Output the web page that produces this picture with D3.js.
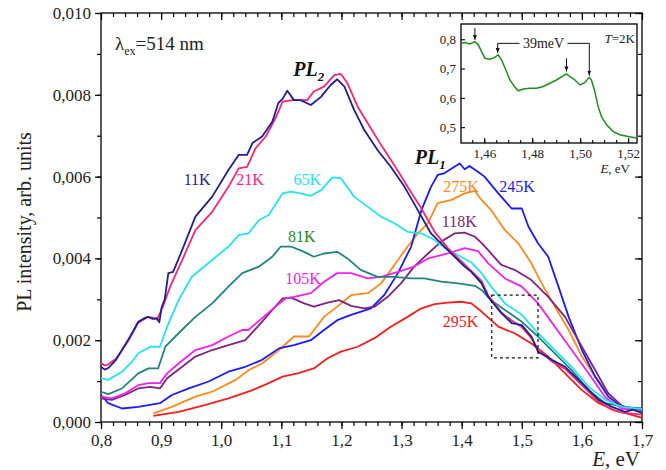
<!DOCTYPE html>
<html>
<head>
<meta charset="utf-8">
<title>PL spectra</title>
<script src="https://cdn.jsdelivr.net/npm/d3@7"></script>
<style>
  body { margin: 0; background: #fff; }
  svg, svg text { font-family: "Liberation Serif", "Times New Roman", serif; }
  svg { display: block; }
</style>
</head>
<body>
<svg id="chart" width="666" height="470"></svg>
<script>
// PL spectra, [E (eV), intensity]
const s11K = [[0.800,0.00135],[0.806,0.00128],[0.812,0.00132],[0.825,0.00152],[0.835,0.00176],[0.848,0.00208],[0.862,0.00245],[0.870,0.00252],[0.878,0.00257],[0.886,0.00252],[0.893,0.00254],[0.897,0.00244],[0.901,0.00281],[0.906,0.00300],[0.912,0.00364],[0.920,0.00367],[0.935,0.00420],[0.957,0.00502],[0.985,0.00551],[1.012,0.00616],[1.029,0.00653],[1.043,0.00653],[1.052,0.00682],[1.068,0.00698],[1.085,0.00734],[1.095,0.00780],[1.102,0.00790],[1.110,0.00810],[1.121,0.00787],[1.132,0.00787],[1.149,0.00775],[1.166,0.00795],[1.182,0.00824],[1.193,0.00838],[1.205,0.00820],[1.221,0.00763],[1.238,0.00714],[1.260,0.00665],[1.282,0.00624],[1.305,0.00575],[1.327,0.00518],[1.349,0.00461],[1.377,0.00420],[1.405,0.00380],[1.416,0.00367],[1.433,0.00339],[1.444,0.00306],[1.466,0.00266],[1.483,0.00242],[1.490,0.00240],[1.500,0.00237],[1.516,0.00209],[1.527,0.00172],[1.550,0.00152],[1.572,0.00135],[1.600,0.00095],[1.628,0.00054],[1.650,0.00037],[1.672,0.00025],[1.685,0.00030],[1.700,0.00022]];
const s21K = [[0.800,0.00144],[0.806,0.00138],[0.812,0.00141],[0.825,0.00155],[0.835,0.00176],[0.848,0.00205],[0.862,0.00243],[0.878,0.00257],[0.886,0.00255],[0.893,0.00250],[0.904,0.00286],[0.915,0.00331],[0.935,0.00396],[0.957,0.00469],[0.985,0.00514],[1.012,0.00575],[1.029,0.00620],[1.043,0.00624],[1.057,0.00669],[1.074,0.00698],[1.090,0.00742],[1.102,0.00783],[1.118,0.00787],[1.143,0.00787],[1.154,0.00808],[1.171,0.00820],[1.188,0.00848],[1.199,0.00851],[1.210,0.00828],[1.227,0.00771],[1.244,0.00730],[1.266,0.00677],[1.288,0.00628],[1.310,0.00575],[1.333,0.00522],[1.355,0.00465],[1.377,0.00425],[1.405,0.00385],[1.433,0.00345],[1.444,0.00310],[1.466,0.00268],[1.483,0.00248],[1.500,0.00232],[1.516,0.00205],[1.527,0.00178],[1.550,0.00148],[1.572,0.00130],[1.600,0.00090],[1.628,0.00050],[1.650,0.00030],[1.672,0.00022],[1.700,0.00018]];
const s65K = [[0.800,0.00107],[0.812,0.00103],[0.835,0.00123],[0.850,0.00145],[0.862,0.00168],[0.882,0.00184],[0.898,0.00184],[0.910,0.00233],[0.929,0.00298],[0.951,0.00355],[0.985,0.00396],[1.012,0.00429],[1.029,0.00457],[1.045,0.00461],[1.063,0.00494],[1.079,0.00506],[1.102,0.00559],[1.116,0.00563],[1.132,0.00559],[1.149,0.00553],[1.166,0.00567],[1.185,0.00598],[1.199,0.00596],[1.221,0.00551],[1.244,0.00526],[1.266,0.00502],[1.288,0.00486],[1.310,0.00465],[1.333,0.00461],[1.355,0.00445],[1.377,0.00420],[1.399,0.00404],[1.416,0.00390],[1.433,0.00364],[1.449,0.00331],[1.472,0.00290],[1.500,0.00262],[1.527,0.00217],[1.555,0.00176],[1.583,0.00135],[1.611,0.00086],[1.639,0.00054],[1.666,0.00037],[1.700,0.00032]];
const s81K = [[0.800,0.00074],[0.812,0.00068],[0.835,0.00082],[0.862,0.00119],[0.879,0.00131],[0.895,0.00131],[0.907,0.00184],[0.929,0.00217],[0.957,0.00257],[0.985,0.00290],[1.012,0.00331],[1.035,0.00364],[1.063,0.00380],[1.085,0.00404],[1.099,0.00429],[1.116,0.00429],[1.138,0.00416],[1.154,0.00404],[1.171,0.00412],[1.193,0.00416],[1.210,0.00400],[1.232,0.00372],[1.260,0.00355],[1.288,0.00355],[1.316,0.00351],[1.338,0.00351],[1.366,0.00343],[1.394,0.00339],[1.422,0.00333],[1.433,0.00323],[1.449,0.00298],[1.472,0.00274],[1.500,0.00245],[1.527,0.00209],[1.555,0.00168],[1.583,0.00127],[1.611,0.00078],[1.639,0.00046],[1.672,0.00037],[1.700,0.00029]];
const s105K = [[0.800,0.00062],[0.818,0.00058],[0.840,0.00070],[0.862,0.00090],[0.879,0.00095],[0.898,0.00095],[0.910,0.00119],[0.929,0.00143],[0.957,0.00176],[0.985,0.00188],[1.012,0.00209],[1.035,0.00225],[1.045,0.00225],[1.068,0.00254],[1.090,0.00282],[1.107,0.00302],[1.121,0.00306],[1.149,0.00315],[1.171,0.00343],[1.193,0.00364],[1.216,0.00364],[1.244,0.00351],[1.266,0.00355],[1.294,0.00367],[1.321,0.00380],[1.344,0.00400],[1.377,0.00412],[1.405,0.00425],[1.427,0.00418],[1.444,0.00388],[1.472,0.00351],[1.500,0.00331],[1.527,0.00290],[1.555,0.00233],[1.583,0.00176],[1.611,0.00119],[1.639,0.00060],[1.666,0.00033],[1.700,0.00028]];
const s118K = [[0.800,0.00058],[0.818,0.00054],[0.840,0.00066],[0.862,0.00082],[0.882,0.00086],[0.898,0.00082],[0.910,0.00107],[0.935,0.00135],[0.957,0.00160],[0.985,0.00176],[1.012,0.00188],[1.040,0.00200],[1.063,0.00237],[1.085,0.00274],[1.102,0.00302],[1.116,0.00304],[1.138,0.00290],[1.154,0.00282],[1.177,0.00292],[1.196,0.00298],[1.216,0.00284],[1.238,0.00278],[1.255,0.00282],[1.277,0.00306],[1.299,0.00339],[1.321,0.00380],[1.344,0.00412],[1.366,0.00441],[1.388,0.00461],[1.405,0.00463],[1.422,0.00453],[1.433,0.00438],[1.444,0.00420],[1.466,0.00384],[1.488,0.00372],[1.516,0.00347],[1.544,0.00306],[1.572,0.00257],[1.600,0.00184],[1.622,0.00127],[1.644,0.00070],[1.666,0.00040],[1.700,0.00023]];
const s245K = [[0.800,0.00066],[0.812,0.00046],[0.835,0.00033],[0.862,0.00037],[0.898,0.00046],[0.918,0.00066],[0.946,0.00082],[0.979,0.00099],[1.012,0.00123],[1.040,0.00135],[1.068,0.00152],[1.096,0.00180],[1.121,0.00188],[1.149,0.00200],[1.171,0.00225],[1.193,0.00249],[1.216,0.00262],[1.249,0.00278],[1.271,0.00310],[1.294,0.00364],[1.316,0.00429],[1.333,0.00518],[1.349,0.00575],[1.360,0.00604],[1.371,0.00608],[1.388,0.00624],[1.397,0.00632],[1.405,0.00618],[1.413,0.00626],[1.427,0.00612],[1.438,0.00600],[1.461,0.00559],[1.483,0.00522],[1.500,0.00522],[1.511,0.00478],[1.527,0.00437],[1.544,0.00404],[1.561,0.00331],[1.578,0.00257],[1.600,0.00176],[1.622,0.00111],[1.644,0.00062],[1.666,0.00037],[1.700,0.00033]];
const s275K = [[0.887,0.00021],[0.918,0.00037],[0.957,0.00062],[0.985,0.00074],[1.024,0.00103],[1.046,0.00127],[1.068,0.00143],[1.096,0.00176],[1.121,0.00209],[1.146,0.00209],[1.171,0.00257],[1.193,0.00282],[1.216,0.00310],[1.244,0.00315],[1.266,0.00339],[1.294,0.00396],[1.310,0.00429],[1.327,0.00461],[1.344,0.00486],[1.360,0.00535],[1.383,0.00543],[1.405,0.00559],[1.422,0.00565],[1.433,0.00543],[1.449,0.00518],[1.472,0.00469],[1.494,0.00437],[1.516,0.00388],[1.533,0.00339],[1.555,0.00282],[1.578,0.00225],[1.600,0.00160],[1.622,0.00111],[1.644,0.00070],[1.666,0.00040],[1.700,0.00025]];
const s295K = [[0.887,0.00015],[0.929,0.00025],[0.974,0.00042],[1.012,0.00058],[1.052,0.00078],[1.079,0.00095],[1.102,0.00111],[1.127,0.00119],[1.154,0.00131],[1.177,0.00156],[1.199,0.00172],[1.227,0.00184],[1.255,0.00205],[1.282,0.00233],[1.310,0.00257],[1.333,0.00278],[1.355,0.00288],[1.377,0.00292],[1.399,0.00294],[1.416,0.00290],[1.433,0.00270],[1.449,0.00249],[1.461,0.00233],[1.488,0.00217],[1.516,0.00192],[1.544,0.00160],[1.572,0.00119],[1.600,0.00078],[1.628,0.00046],[1.655,0.00028],[1.677,0.00020],[1.700,0.00010]];

// series: name, data, line colour, label colour, label anchor [E, I]
const seriesNames = ["295K", "275K", "245K", "118K", "105K", "81K", "65K", "21K", "11K"];
const seriesData = [s295K, s275K, s245K, s118K, s105K, s81K, s65K, s21K, s11K];
const lineColors = ["#f0201e", "#ff8a1c", "#1c1cf0", "#7e2484", "#f222ee", "#21857f", "#24e4f0", "#f52878", "#1f1f8e"];
const labelColors = ["#f0201e", "#ff8a1c", "#1c1cf0", "#7e2484", "#f222ee", "#1e8a1e", "#24e4f0", "#f52878", "#1f1f8e"];
const labelPos = [[1.398, 0.00232], [1.399, 0.00562], [1.492, 0.00562], [1.396, 0.00477], [1.136, 0.00337], [1.134, 0.00440], [1.143, 0.00579], [1.048, 0.00579], [0.960, 0.00579]];

const peakLabels = ["PL", "PL"];
const peakSubs = ["2", "1"];
const peakPos = [[1.120, 0.00845], [1.322, 0.00630]];

const xTicks = [0.8, 0.9, 1.0, 1.1, 1.2, 1.3, 1.4, 1.5, 1.6, 1.7];
const yTicks = [0, 0.002, 0.004, 0.006, 0.008, 0.010];
const zoomBox = [1.450, 1.527, 0.00157, 0.00310];

// inset: T = 2 K spectrum
const insetE = [1.4503,1.4520,1.4540,1.4561,1.4575,1.4589,1.4603,1.4624,1.4644,1.4658,1.4672,1.4690,1.4707,1.4728,1.4742,1.4763,1.4790,1.4818,1.4846,1.4874,1.4901,1.4929,1.4943,1.4957,1.4978,1.4999,1.5019,1.5038,1.5047,1.5061,1.5075,1.5089,1.5110,1.5138,1.5165,1.5200,1.5235];
const insetI = [0.786,0.789,0.784,0.792,0.781,0.758,0.735,0.732,0.738,0.747,0.730,0.695,0.661,0.636,0.624,0.630,0.633,0.633,0.639,0.650,0.661,0.675,0.682,0.673,0.661,0.644,0.652,0.670,0.661,0.622,0.570,0.536,0.508,0.485,0.474,0.468,0.463];
const insetXTicks = [1.46, 1.48, 1.50, 1.52];
const insetYTicks = [0.5, 0.6, 0.7, 0.8];
// arrows: [E, from, to]
const insetArrows = [[1.4561, 0.838, 0.798], [1.4656, 0.786, 0.753], [1.4943, 0.735, 0.690], [1.5038, 0.786, 0.676]];
const bracket = [1.4656, 1.5038, 0.786];

const svg = d3.select("#chart");

const x = d3.scaleLinear().domain([0.8, 1.7]).range([101, 642]);
const y = d3.scaleLinear().domain([0, 0.010]).range([422, 13]);

const comma = f => (d => d3.format(f)(d).replace(".", ","));

// frame
svg.append("rect")
  .attr("x", x(0.8)).attr("y", y(0.010))
  .attr("width", x(1.7) - x(0.8)).attr("height", y(0) - y(0.010))
  .attr("fill", "none").attr("stroke", "#000").attr("stroke-width", 1.3);

const minorX = d3.range(0.8, 1.7001, 0.02);
const minorY = d3.range(0, 0.01001, 0.001);

function tickStyle(g) {
  g.attr("font-family", null);
  g.select(".domain").remove();
  g.selectAll("line").attr("stroke", "#000").attr("stroke-width", 1.2);
  g.selectAll("text").attr("font-size", 17).attr("fill", "#222");
}

// bottom
svg.append("g").attr("transform", `translate(0,${y(0)})`)
  .call(d3.axisBottom(x).tickValues(minorX).tickSize(4).tickFormat(""))
  .call(tickStyle);
svg.append("g").attr("transform", `translate(0,${y(0)})`)
  .call(d3.axisBottom(x).tickValues(xTicks).tickSize(7).tickPadding(5).tickFormat(comma(".1f")))
  .call(tickStyle);
// top (inward)
svg.append("g").attr("transform", `translate(0,${y(0.010)})`)
  .call(d3.axisBottom(x).tickValues(minorX).tickSize(4).tickFormat(""))
  .call(tickStyle);
svg.append("g").attr("transform", `translate(0,${y(0.010)})`)
  .call(d3.axisBottom(x).tickValues(xTicks).tickSize(7).tickFormat(""))
  .call(tickStyle);
// left
svg.append("g").attr("transform", `translate(${x(0.8)},0)`)
  .call(d3.axisLeft(y).tickValues(minorY).tickSize(4).tickFormat(""))
  .call(tickStyle);
svg.append("g").attr("transform", `translate(${x(0.8)},0)`)
  .call(d3.axisLeft(y).tickValues(yTicks).tickSize(6).tickPadding(4).tickFormat(comma(".3f")))
  .call(tickStyle);
// right (inward)
svg.append("g").attr("transform", `translate(${x(1.7)},0)`)
  .call(d3.axisLeft(y).tickValues(minorY).tickSize(4).tickFormat(""))
  .call(tickStyle);
svg.append("g").attr("transform", `translate(${x(1.7)},0)`)
  .call(d3.axisLeft(y).tickValues(yTicks).tickSize(7).tickFormat(""))
  .call(tickStyle);

// axis titles
svg.append("text")
  .attr("transform", "translate(31,222) rotate(-90)")
  .attr("text-anchor", "middle").attr("font-size", 20).attr("fill", "#222")
  .text("PL intensity, arb. units");

const xt = svg.append("text").attr("x", 640).attr("y", 466)
  .attr("text-anchor", "end").attr("font-size", 21).attr("fill", "#222");
xt.append("tspan").attr("font-style", "italic").text("E");
xt.append("tspan").text(", eV");

// curves
const line = d3.line().x(d => x(d[0])).y(d => y(d[1]));
svg.append("g").selectAll("path")
  .data(seriesData)
  .join("path")
  .attr("d", line)
  .attr("fill", "none")
  .attr("stroke", (d, i) => lineColors[i])
  .attr("stroke-width", 1.8)
  .attr("stroke-linejoin", "round");

// series labels
svg.append("g").selectAll("text")
  .data(seriesNames)
  .join("text")
  .attr("x", (d, i) => x(labelPos[i][0]))
  .attr("y", (d, i) => y(labelPos[i][1]))
  .attr("text-anchor", "middle")
  .attr("font-size", 16)
  .attr("fill", (d, i) => labelColors[i])
  .text(d => d);

// PL1, PL2
peakLabels.forEach((t, i) => {
  const tx = svg.append("text")
    .attr("x", x(peakPos[i][0])).attr("y", y(peakPos[i][1]))
    .attr("font-size", 20).attr("font-weight", "bold").attr("font-style", "italic").attr("fill", "#111");
  tx.append("tspan").text(t);
  tx.append("tspan").attr("dy", 5).attr("font-size", 13).text(peakSubs[i]);
});

// excitation wavelength
const lam = svg.append("text").attr("x", 115).attr("y", 50).attr("font-size", 19).attr("fill", "#222");
lam.append("tspan").text("λ");
lam.append("tspan").attr("dy", 5).attr("font-size", 12).text("ex");
lam.append("tspan").attr("dy", -5).text("=514 nm");

// dashed zoom box
svg.append("rect")
  .attr("x", x(zoomBox[0])).attr("y", y(zoomBox[3]))
  .attr("width", x(zoomBox[1]) - x(zoomBox[0]))
  .attr("height", y(zoomBox[2]) - y(zoomBox[3]))
  .attr("fill", "none").attr("stroke", "#111").attr("stroke-width", 1.2)
  .attr("stroke-dasharray", "3,3");

// ---- inset ----
const ix = d3.scaleLinear().domain([1.4503, 1.5237]).range([461, 637]);
const iy = d3.scaleLinear().domain([0.446, 0.852]).range([143, 24]);

svg.append("rect").attr("x", 461).attr("y", 24).attr("width", 176).attr("height", 119)
  .attr("fill", "#fff").attr("stroke", "#000").attr("stroke-width", 1.3);

function insetStyle(g) {
  g.attr("font-family", null);
  g.select(".domain").remove();
  g.selectAll("line").attr("stroke", "#000").attr("stroke-width", 1.1);
  g.selectAll("text").attr("font-size", 13).attr("fill", "#222");
}
svg.append("g").attr("transform", "translate(0,143)")
  .call(d3.axisTop(ix).tickValues(d3.range(1.455, 1.5236, 0.005)).tickSize(3).tickFormat(""))
  .call(insetStyle);
svg.append("g").attr("transform", "translate(0,143)")
  .call(d3.axisBottom(ix).tickValues(insetXTicks).tickSize(0).tickPadding(6).tickFormat(comma(".2f")))
  .call(insetStyle);
svg.append("g").attr("transform", "translate(0,143)")
  .call(d3.axisTop(ix).tickValues(insetXTicks).tickSize(5).tickFormat(""))
  .call(insetStyle);
svg.append("g").attr("transform", "translate(461,0)")
  .call(d3.axisRight(iy).tickValues(insetYTicks).tickSize(4).tickFormat(""))
  .call(insetStyle);
svg.append("g").attr("transform", "translate(461,0)")
  .call(d3.axisLeft(iy).tickValues(insetYTicks).tickSize(0).tickPadding(5).tickFormat(comma(".1f")))
  .call(insetStyle);

svg.append("path")
  .datum(insetE.map((e, i) => [e, insetI[i]]))
  .attr("d", d3.line().x(d => ix(d[0])).y(d => iy(d[1])))
  .attr("fill", "none").attr("stroke", "#1f8c1f").attr("stroke-width", 1.5);

svg.append("defs").append("marker")
  .attr("id", "ah").attr("viewBox", "0 0 10 10").attr("refX", 10).attr("refY", 5)
  .attr("markerWidth", 5).attr("markerHeight", 6).attr("orient", "auto")
  .append("path").attr("d", "M0,1L10,5L0,9Z").attr("fill", "#111");

svg.append("g").selectAll("line")
  .data(insetArrows)
  .join("line")
  .attr("x1", d => ix(d[0])).attr("x2", d => ix(d[0]))
  .attr("y1", d => iy(d[1])).attr("y2", d => iy(d[2]))
  .attr("stroke", "#111").attr("stroke-width", 1).attr("marker-end", "url(#ah)");

// 39 meV bracket with a gap for its label
const midE = (bracket[0] + bracket[1]) / 2;
svg.append("line").attr("x1", ix(bracket[0])).attr("x2", ix(midE) - 24)
  .attr("y1", iy(bracket[2])).attr("y2", iy(bracket[2])).attr("stroke", "#111");
svg.append("line").attr("x1", ix(midE) + 24).attr("x2", ix(bracket[1]))
  .attr("y1", iy(bracket[2])).attr("y2", iy(bracket[2])).attr("stroke", "#111");
svg.append("text").attr("x", ix(midE)).attr("y", iy(bracket[2]) + 5)
  .attr("text-anchor", "middle").attr("font-size", 14).attr("fill", "#222").text("39meV");

const tt = svg.append("text").attr("x", 635).attr("y", 43).attr("text-anchor", "end")
  .attr("font-size", 13).attr("fill", "#222");
tt.append("tspan").attr("font-style", "italic").text("T");
tt.append("tspan").text("=2K");

const ie = svg.append("text").attr("x", 630).attr("y", 173).attr("text-anchor", "end")
  .attr("font-size", 13).attr("fill", "#222");
ie.append("tspan").attr("font-style", "italic").text("E");
ie.append("tspan").text(", eV");
</script>
</body>
</html>
